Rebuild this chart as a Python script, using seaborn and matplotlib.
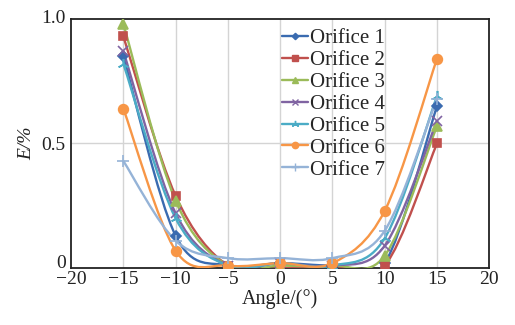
import matplotlib
matplotlib.use("Agg")
import matplotlib.pyplot as plt
from matplotlib.path import Path
from matplotlib.patches import PathPatch
from matplotlib.lines import Line2D
import seaborn as sns
import numpy as np

angles = [-15, -10, -5, 0, 5, 10, 15]
orifice_1 = [0.85, 0.13, 0.01, 0.02, 0.01, 0.02, 0.65]
orifice_2 = [0.93, 0.29, 0.01, 0.00, 0.01, 0.01, 0.50]
orifice_3 = [0.98, 0.27, 0.01, 0.01, 0.01, 0.05, 0.57]
orifice_4 = [0.87, 0.22, 0.01, 0.02, 0.01, 0.09, 0.59]
orifice_5 = [0.82, 0.20, 0.01, 0.02, 0.01, 0.12, 0.69]
orifice_6 = [0.64, 0.07, 0.01, 0.02, 0.02, 0.23, 0.84]
orifice_7 = [0.43, 0.11, 0.04, 0.04, 0.04, 0.15, 0.68]
labels = ["Orifice 1", "Orifice 2", "Orifice 3", "Orifice 4",
          "Orifice 5", "Orifice 6", "Orifice 7"]
series = [orifice_1, orifice_2, orifice_3, orifice_4, orifice_5, orifice_6, orifice_7]
colors = ["#3A6BB0", "#C0504D", "#9BBB59", "#8064A2", "#4BACC6", "#F79646", "#95B3D7"]
markers = ["D", "s", "^", "x", (3, 2, 0), "o", "+"]
msizes = [5, 6, 7, 7, 8, 7, 8]

sns.set_theme(style="white")
plt.rcParams["font.family"] = ["Liberation Serif", "DejaVu Serif"]

fig = plt.figure(figsize=(5.15, 3.25), dpi=100)
ax = fig.add_axes([0.138, 0.175, 0.812, 0.767])


def smooth_path(xs, ys):
    pts = np.column_stack([xs, ys]).astype(float)
    n = len(pts)
    verts = [pts[0]]
    codes = [Path.MOVETO]
    for i in range(n - 1):
        p0 = pts[i - 1] if i > 0 else pts[i]
        p1 = pts[i]
        p2 = pts[i + 1]
        p3 = pts[i + 2] if i + 2 < n else pts[i + 1]
        c1 = p1 + (p2 - p0) / 6.0
        c2 = p2 - (p3 - p1) / 6.0
        verts += [c1, c2, p2]
        codes += [Path.CURVE4] * 3
    return Path(verts, codes)


handles = []
for vals, lab, col, mk, ms in zip(series, labels, colors, markers, msizes):
    patch = PathPatch(smooth_path(angles, vals), facecolor="none",
                      edgecolor=col, lw=1.7, zorder=3)
    ax.add_patch(patch)
    sns.lineplot(x=angles, y=vals, ax=ax, color=col, marker=mk, markersize=ms,
                 linestyle="none", markeredgecolor=col, markeredgewidth=1.2,
                 zorder=4, legend=False)
    handles.append(Line2D([], [], color=col, lw=1.7, marker=mk,
                          markersize=ms * 0.65, markeredgecolor=col,
                          markeredgewidth=1.0))

ax.set_xlim(-20, 20)
ax.set_ylim(0, 1.0)
ax.set_xticks([-20, -15, -10, -5, 0, 5, 10, 15, 20])
ax.set_yticks([0, 0.5, 1.0])
ax.set_yticklabels(["0", "0.5", "1.0"])
for xv in [-15, -10, -5, 0, 5, 10, 15]:
    ax.axvline(xv, color="#d4d4d4", lw=1.0, zorder=1)
ax.axhline(0.5, color="#d4d4d4", lw=1.0, zorder=1)

for s in ax.spines.values():
    s.set_visible(True)
    s.set_color("#222222")
    s.set_linewidth(1.3)

ax.tick_params(axis="x", direction="in", length=4, width=1, colors="#222222",
               labelsize=14, pad=2)
ax.tick_params(axis="y", direction="out", length=3, width=1, colors="#222222",
               labelsize=14, pad=1)
ylabs = ax.get_yticklabels()
ylabs[0].set_verticalalignment("baseline")
ylabs[-1].set_verticalalignment("center")
ax.set_xlabel("Angle/(°)", fontsize=14.5, labelpad=1, color="#222222")
ax.set_ylabel("E/%", fontsize=14, style="italic", labelpad=4, color="#222222")

ax.legend(handles=handles, labels=labels, loc="upper left",
          bbox_to_anchor=(0.505, 0.96), frameon=False, fontsize=15,
          handlelength=1.25, handletextpad=0.08, labelspacing=0.11,
          borderpad=0.0, borderaxespad=0.0)

fig.savefig("out.png", dpi=100)
